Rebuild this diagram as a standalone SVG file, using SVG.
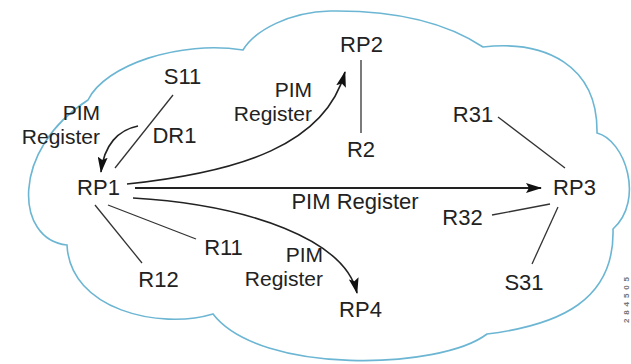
<svg xmlns="http://www.w3.org/2000/svg" width="631" height="364" viewBox="0 0 631 364">
<style>
text{font-family:"Liberation Sans",Arial,Helvetica,sans-serif;font-size:22px;fill:#222}
.lb{font-size:21px}
.ln{stroke:#333;stroke-width:1.3;fill:none}
.ar{stroke:#222;stroke-width:1.6;fill:none}
.cloud{fill:#fff;stroke:#6cb6d3;stroke-width:1.6}
.fig{font-size:8px;font-weight:bold;fill:#777}
</style>
<defs>
<marker id="ah" viewBox="0 0 16 10" refX="15" refY="5" markerWidth="16" markerHeight="10" markerUnits="userSpaceOnUse" orient="auto">
<path d="M0,0 L16,5 L0,10 L3,5 Z" fill="#111"/>
</marker>
</defs>
<rect width="631" height="364" fill="#fff"/>
<path class="cloud" d="M88,100 C105,65 180,40 243,50 C255,30 290,12 330,11 C400,10 450,25 483,47 C545,40 598,65 597,133 C625,140 645,200 613,229 C615,300 560,325 487,334 C440,370 260,375 213,314 C160,330 70,310 67,245 C15,240 10,150 88,100 Z"/>
<g id="connectors">
<line class="ln" x1="361" y1="60" x2="361" y2="133"/>
<line class="ln" x1="173" y1="95" x2="115" y2="168"/>
<line class="ln" x1="108" y1="205" x2="196" y2="239"/>
<line class="ln" x1="95" y1="205" x2="142" y2="263"/>
<line class="ln" x1="498" y1="117" x2="565" y2="168"/>
<line class="ln" x1="492" y1="215" x2="550" y2="204"/>
<line class="ln" x1="558" y1="207" x2="532" y2="264"/>
<path class="ar" d="M138,126 C118,130 104,145 101,172" marker-end="url(#ah)"/>
<path class="ar" d="M127,184 C240,172 325,145 345,72" marker-end="url(#ah)"/>
<path class="ar" d="M133,198 C250,205 345,240 357,293" marker-end="url(#ah)"/>
<line x1="135" y1="188" x2="541" y2="188" stroke="#222" stroke-width="2.2" marker-end="url(#ah)"/>
</g>
<g id="RP1"><text x="98.5" y="195" text-anchor="middle">RP1</text></g>
<g id="RP2"><text x="361.5" y="52" text-anchor="middle">RP2</text></g>
<g id="RP3"><text x="574.5" y="195" text-anchor="middle">RP3</text></g>
<g id="RP4"><text x="360.5" y="317" text-anchor="middle">RP4</text></g>
<g id="S11"><text x="182.5" y="84" text-anchor="middle">S11</text></g>
<g id="DR1"><text x="174.5" y="143" text-anchor="middle">DR1</text></g>
<g id="R2"><text x="361" y="157" text-anchor="middle">R2</text></g>
<g id="R31"><text x="473" y="122" text-anchor="middle">R31</text></g>
<g id="R32"><text x="462.5" y="225" text-anchor="middle">R32</text></g>
<g id="S31"><text x="524" y="290" text-anchor="middle">S31</text></g>
<g id="R11"><text x="223.5" y="255" text-anchor="middle">R11</text></g>
<g id="R12"><text x="158.5" y="287" text-anchor="middle">R12</text></g>
<g id="labels">
<text class="lb" x="100" y="120" text-anchor="end">PIM</text>
<text class="lb" x="100" y="144" text-anchor="end">Register</text>
<text class="lb" x="312" y="97" text-anchor="end">PIM</text>
<text class="lb" x="312" y="121" text-anchor="end">Register</text>
<text x="355" y="209" text-anchor="middle">PIM Register</text>
<text class="lb" x="323" y="262" text-anchor="end">PIM</text>
<text class="lb" x="323" y="286" text-anchor="end">Register</text>
<text class="fig" transform="translate(629,300) rotate(-90)" text-anchor="middle" textLength="46" lengthAdjust="spacing">284505</text>
</g>
</svg>
